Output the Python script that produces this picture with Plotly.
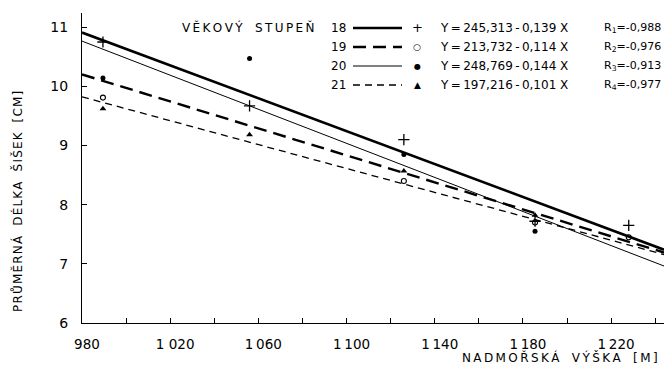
import plotly.graph_objects as go

# ---- data ----
altitude_18 = [989.5, 1056, 1126, 1185.5, 1228]
length_18 = [10.75, 9.67, 9.10, 7.72, 7.65]
altitude_19 = [989.5, 1126, 1185.5, 1228]
length_19 = [9.81, 8.40, 7.70, 7.45]
altitude_20 = [989.5, 1056, 1126, 1185.5]
length_20 = [10.14, 10.47, 8.85, 7.55]
altitude_21 = [989.5, 1056, 1126, 1185.5]
length_21 = [9.62, 9.18, 8.57, 7.82]

age_classes = ["18", "19", "20", "21"]
intercepts = [245.313, 213.732, 248.769, 197.216]   # mm
slopes = [0.139, 0.114, 0.144, 0.101]
intercept_labels = ["245,313", "213,732", "248,769", "197,216"]
slope_labels = ["0,139", "0,114", "0,144", "0,101"]
r_labels = ["-0,988", "-0,976", "-0,913", "-0,977"]
line_x = [980, 1244]

x_tickvals = [980, 1020, 1060, 1100, 1140, 1180, 1220]
x_ticktext = ["980", "1 020", "1\u2009060", "1\u2009100", "1\u2009140", "1\u2009180", "1\u2009220"]
y_tickvals = [6, 7, 8, 9, 10, 11]

# ---- styles ----
FONT = "DejaVu Sans, Noto Sans, sans-serif"
line_styles = [
    dict(width=2.6, dash="solid"),
    dict(width=2.4, dash="13px,7px"),
    dict(width=1.0, dash="solid"),
    dict(width=1.3, dash="7px,5px"),
]
marker_styles = [
    dict(symbol="cross-thin", size=8, line=dict(width=1.3, color="black")),
    dict(symbol="circle-open", size=5, line=dict(width=1.1, color="black")),
    dict(symbol="circle", size=5, color="black"),
    dict(symbol="triangle-up", size=6, color="black"),
]
legend_marker_chars = ["+", "\u25cb", "\u25cf", "\u25b2"]
legend_marker_sizes = [13, 9, 8, 9]

points = [(altitude_18, length_18), (altitude_19, length_19),
          (altitude_20, length_20), (altitude_21, length_21)]

W, H = 666, 372
L, R, T, B = 82, 2, 13, 49
PW, PH = W - L - R, H - T - B


def px(x):
    return (x - L) / PW


def py(y):
    return (H - B - y) / PH


def spaced(s, sep):
    out = []
    for ch in s:
        out.append("\u00a0\u00a0" if ch == " " else ch)
    return sep.join(out)


fig = go.Figure()

for i in range(4):
    a, b = intercepts[i], slopes[i]
    ys = [(a - b * x) / 10.0 for x in line_x]
    fig.add_trace(go.Scatter(x=line_x, y=ys, mode="lines",
                             line=dict(color="black", **line_styles[i]),
                             showlegend=False, hoverinfo="skip"))

for i, (xs, ys) in enumerate(points):
    ms = dict(marker_styles[i])
    ms.setdefault("color", "black")
    fig.add_trace(go.Scatter(x=xs, y=ys, mode="markers", marker=ms,
                             showlegend=False))

annotations = []
shapes = []

# legend block
annotations.append(dict(text=spaced("V\u011aKOV\u00dd STUPE\u0147", "\u2009"), x=px(180), y=py(28),
                        xref="paper", yref="paper", xanchor="left", yanchor="middle",
                        showarrow=False, font=dict(size=12, family=FONT, color="black")))
row_y = [28, 47, 66, 85]
for i in range(4):
    yy = py(row_y[i])
    annotations.append(dict(text=age_classes[i], x=px(338), y=yy, xref="paper", yref="paper",
                            xanchor="center", yanchor="middle", showarrow=False,
                            font=dict(size=12, family=FONT, color="black")))
    shapes.append(dict(type="line", xref="paper", yref="paper", x0=px(353), x1=px(402),
                       y0=yy, y1=yy,
                       line=dict(color="black", width=line_styles[i]["width"],
                                 dash=line_styles[i]["dash"])))
    annotations.append(dict(text=legend_marker_chars[i], x=px(417), y=yy, xref="paper", yref="paper",
                            xanchor="center", yanchor="middle", showarrow=False,
                            font=dict(size=legend_marker_sizes[i], family=FONT, color="black")))
    eq = "Y\u2009=\u2009" + intercept_labels[i] + "\u2009-\u2009" + slope_labels[i] + "\u00a0X"
    annotations.append(dict(text=eq, x=px(438), y=yy, xref="paper", yref="paper",
                            xanchor="left", yanchor="middle", showarrow=False,
                            font=dict(size=12, family=FONT, color="black")))
    annotations.append(dict(text="R<sub>" + str(i + 1) + "</sub>=" + r_labels[i], x=px(663), y=yy,
                            xref="paper", yref="paper", xanchor="right", yanchor="middle",
                            showarrow=False, font=dict(size=11, family=FONT, color="black")))

# axis titles
annotations.append(dict(text=spaced("PR\u016eM\u011aRN\u00c1 D\u00c9LKA \u0160I\u0160EK [CM]", "\u200a"),
                        x=px(18), y=py(202), xref="paper", yref="paper", textangle=-90,
                        xanchor="center", yanchor="middle", showarrow=False,
                        font=dict(size=12, family=FONT, color="black")))
annotations.append(dict(text=spaced("NADMO\u0158SK\u00c1 V\u00dd\u0160KA [M]", "\u2009"),
                        x=px(660), y=py(358), xref="paper", yref="paper",
                        xanchor="right", yanchor="middle", showarrow=False,
                        font=dict(size=12, family=FONT, color="black")))

fig.update_layout(
    width=W, height=H,
    margin=dict(l=L, r=R, t=T, b=B, pad=0),
    paper_bgcolor="white", plot_bgcolor="white",
    annotations=annotations, shapes=shapes,
    showlegend=False,
    font=dict(family=FONT, color="black"),
)
fig.update_xaxes(range=[980, 1244], tickvals=x_tickvals, ticktext=x_ticktext,
                 ticks="inside", ticklen=5, tickwidth=1, tickcolor="black",
                 minor=dict(tick0=980, dtick=20, ticks="inside", ticklen=5, tickwidth=1,
                            tickcolor="black", showgrid=False),
                 showline=True, linecolor="black", linewidth=1.3,
                 showgrid=False, zeroline=False, ticklabelstandoff=9, ticklabelshift=5,
                 tickfont=dict(size=13.5, family=FONT, color="black"))
fig.update_yaxes(range=[6, 11.24], tickvals=y_tickvals,
                 ticks="inside", ticklen=5, tickwidth=1, tickcolor="black",
                 showline=True, linecolor="black", linewidth=1.3,
                 showgrid=False, zeroline=False, ticklabelstandoff=10,
                 tickfont=dict(size=14, family=FONT, color="black"))

fig.write_html("out.html")
